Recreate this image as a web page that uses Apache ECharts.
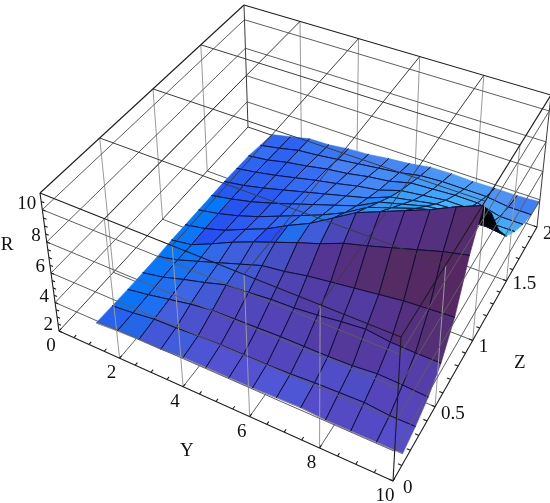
<!DOCTYPE html>
<html>
<head>
<meta charset="utf-8">
<style>html,body{margin:0;padding:0;background:#fff}#chart{width:550px;height:503px}</style>
<script src="https://cdn.jsdelivr.net/npm/echarts@6/dist/echarts.min.js"></script>
</head>
<body>
<div id="chart"></div>
<script>
// mesh positions
const yLevels = [0.9, 1.6, 2.3, 3, 3.7, 4.4, 5.1, 5.8, 6.5, 7.2, 7.9, 8.6, 9.3, 10];
const zLevels = [0.1, 0.246, 0.392, 0.538, 0.685, 0.831, 0.977, 1.123, 1.269, 1.415, 1.562, 1.708, 1.854, 2];

// R along each Z mesh line, one value per yLevels entry
const rZ0 = [2.55, 2.65, 2.7, 2.7, 2.8, 2.8, 2.8, 2.8, 2.85, 2.9, 2.8, 2.8, 2.8, 2.8];
const rZ1 = [2.5, 2.65, 2.85, 2.9, 3, 3.05, 3.05, 3.05, 3.1, 3.2, 3.25, 3.3, 3.15, 3.15];
const rZ2 = [2.45, 2.7, 3, 3.3, 3.5, 3.55, 3.6, 3.65, 3.65, 3.65, 3.7, 3.85, 3.8, 3.7];
const rZ3 = [2.45, 2.75, 3.2, 3.6, 4.05, 4.15, 4.3, 4.35, 4.5, 4.7, 4.85, 4.65, 4.6, 4.6];
const rZ4 = [2.45, 2.8, 3.3, 3.8, 4.3, 4.8, 5, 5.3, 5.5, 5.7, 5.9, 6.1, 6.2, 6.3];
const rZ5 = [2.5, 2.75, 3.4, 4.1, 4.7, 5.25, 5.8, 6.3, 6.9, 7.3, 7.75, 8.2, 8.65, 9];
const rZ6 = [2.5, 2.8, 3.25, 3.9, 4.5, 5.3, 6, 6.9, 7.8, 8.4, 9, 9.6, 10.3, 10.9];
const rZ7 = [2.5, 2.8, 3.2, 3.7, 4.3, 4.9, 5.5, 6.2, 7.1, 7.6, 8.1, 8.5, 8.7, 9.4];
const rZ8 = [2.5, 2.8, 3.15, 3.6, 4.1, 4.6, 5.1, 5.6, 6.4, 6.8, 7.2, 7.4, 7.2, 7.3];
const rZ9 = [2.5, 2.75, 3.1, 3.5, 3.9, 4.3, 4.7, 5.1, 5.7, 6, 6.3, 6.4, 6, 5.8];
const rZ10 = [2.45, 2.7, 3, 3.35, 3.7, 4, 4.35, 4.6, 5.1, 5.3, 5.5, 5.5, 5, 5];
const rZ11 = [2.4, 2.6, 2.95, 3.2, 3.5, 3.7, 4, 4.2, 4.6, 4.7, 4.8, 4.8, 4.4, 4.4];
const rZ12 = [2.2, 2.5, 2.85, 3, 3.2, 3.4, 3.6, 3.8, 4.1, 4.2, 4.2, 4.2, 4, 4];
const rZ13 = [2.05, 2.4, 2.75, 2.8, 3, 3.1, 3.3, 3.45, 3.7, 3.75, 3.7, 3.75, 3.75, 3.85];
const rRows = [rZ0, rZ1, rZ2, rZ3, rZ4, rZ5, rZ6, rZ7, rZ8, rZ9, rZ10, rZ11, rZ12, rZ13];

// axes
const yRange = [0, 10];
const zRange = [0, 2];
const rRange = [2, 11];
const yTicks = [0, 2, 4, 6, 8, 10];
const zTicks = [0, 0.5, 1, 1.5, 2];
const rTicks = [2, 4, 6, 8, 10];
const yMinor = [0.5, 1, 1.5, 2.5, 3, 3.5, 4.5, 5, 5.5, 6.5, 7, 7.5, 8.5, 9, 9.5];
const zMinor = [0.1, 0.2, 0.3, 0.4, 0.6, 0.7, 0.8, 0.9, 1.1, 1.2, 1.3, 1.4, 1.6, 1.7, 1.8, 1.9];
const rMinor = [2.5, 3, 3.5, 4.5, 5, 5.5, 6.5, 7, 7.5, 8.5, 9, 9.5, 10.5];

// view of the box: where its floor and lid corners land, [y0z0, y1z0, y1z1, y0z1]
const floorQuad = [[59, 331], [393, 481], [537, 227], [248, 127]];
const lidQuad = [[40, 193], [401, 337], [551, 95], [244, 5]];

function quadMap (q) {
  const [p0, p1, p2, p3] = q;
  const dx1 = p1[0] - p2[0], dx2 = p3[0] - p2[0], sx = p0[0] - p1[0] + p2[0] - p3[0];
  const dy1 = p1[1] - p2[1], dy2 = p3[1] - p2[1], sy = p0[1] - p1[1] + p2[1] - p3[1];
  const det = dx1 * dy2 - dx2 * dy1;
  const g = (sx * dy2 - dx2 * sy) / det;
  const h = (dx1 * sy - sx * dy1) / det;
  const a = p1[0] - p0[0] + g * p1[0], b = p3[0] - p0[0] + h * p3[0];
  const d = p1[1] - p0[1] + g * p1[1], e = p3[1] - p0[1] + h * p3[1];
  return function (u, v) {
    const w = 1 + g * u + h * v;
    return [(a * u + b * v + p0[0]) / w, (d * u + e * v + p0[1]) / w];
  };
}
const floorMap = quadMap(floorQuad);
const lidMap = quadMap(lidQuad);

function project (y, z, r) {
  const u = (y - yRange[0]) / (yRange[1] - yRange[0]);
  const v = (z - zRange[0]) / (zRange[1] - zRange[0]);
  const t = (r - rRange[0]) / (rRange[1] - rRange[0]);
  const k = t / (1 + 0.1 * (1 - t));
  const a = floorMap(u, v), b = lidMap(u, v);
  return [a[0] + (b[0] - a[0]) * k, a[1] + (b[1] - a[1]) * k];
}

function clamp (x, a, b) { return Math.max(a, Math.min(b, x)); }

// fill follows the slope of the cell, the way the plot's coloured lights do
function cellColor (gz, gy) {
  let r, g, b;
  if (gz >= 0) {
    const m = clamp(gy / 0.25, 0, 1) * (1 - clamp(gz / 1.2, 0, 1));
    const t = 1 - Math.exp(-gz);
    r = 35 + 50 * Math.min(1, gz * 4) - 30 * m;
    g = 95 - 60 * t + 25 * m;
    b = Math.max(100, 225 - 65 * gz + 25 * m);
  } else {
    const n = -gz;
    r = 35 + 45 * Math.min(1, n / 0.3) * (1 - clamp(gy, 0, 1)) - 30 * Math.max(0, n - 0.3);
    g = 95 + 105 * Math.pow(Math.min(n, 1.3), 0.7) - 50 * clamp(gy, 0, 1);
    b = 240 + 15 * Math.min(1, n);
  }
  return "rgb(" + Math.round(r) + "," + Math.round(g) + "," + Math.round(b) + ")";
}

// far cells first, so nearer ones paint over them
const cellData = [];
for (let i = 0; i < yLevels.length - 1; i++) {
  for (let j = zLevels.length - 2; j >= 0; j--) {
    cellData.push([i, j]);
  }
}

function renderCell (params, api) {
  const i = api.value(0), j = api.value(1);
  const at = (a, b) => api.coord(project(yLevels[a], zLevels[b], rRows[b][a]));
  const p00 = at(i, j), p10 = at(i + 1, j), p11 = at(i + 1, j + 1), p01 = at(i, j + 1);
  const area = (p10[0] - p00[0]) * (p11[1] - p00[1]) - (p10[1] - p00[1]) * (p11[0] - p00[0])
    + (p11[0] - p00[0]) * (p01[1] - p00[1]) - (p11[1] - p00[1]) * (p01[0] - p00[0]);
  const gz = (rRows[j + 1][i] - rRows[j][i] + rRows[j + 1][i + 1] - rRows[j][i + 1]) / 2;
  const gy = (rRows[j][i + 1] - rRows[j][i] + rRows[j + 1][i + 1] - rRows[j + 1][i]) / 2;
  const fill = area > 0 ? "#050308" : cellColor(gz, gy);
  const children = [{
    type: "polygon",
    shape: { points: [p00, p10, p11, p01] },
    style: { fill: fill, stroke: fill, lineWidth: 0.6 },
  }];
  const edge = (a, b, color) => children.push({
    type: "line",
    shape: { x1: a[0], y1: a[1], x2: b[0], y2: b[1] },
    style: { stroke: color || "#0c0f2e", lineWidth: 1 },
  });
  edge(p00, p10, j > 0 ? null : "#8f8f95");
  if (j + 2 < zLevels.length) edge(p01, p11);
  if (i > 0) edge(p00, p01);
  if (i + 2 < yLevels.length) edge(p10, p11);
  return { type: "group", children: children };
}

// grid lines are [y1, z1, r1, y2, z2, r2, strength]
const [y0, y1] = yRange, [z0, z1] = zRange, [r0, r1] = rRange;
const innerY = yTicks.slice(1, -1), innerZ = zTicks.slice(1, -1), innerR = rTicks.slice(1);

const backLines = [];
innerY.forEach((y) => {
  backLines.push([y, z0, r0, y, z1, r0, 1]);
  backLines.push([y, z1, r0, y, z1, r1, 0]);
});
innerZ.forEach((z) => {
  backLines.push([y0, z, r0, y1, z, r0, 1]);
  backLines.push([y0, z, r0, y0, z, r1, 0]);
});
innerR.forEach((r) => {
  backLines.push([y0, z1, r, y1, z1, r, 1]);
  backLines.push([y0, z0, r, y0, z1, r, 1]);
});
backLines.push([y0, z0, r0, y0, z1, r0, 2], [y0, z1, r0, y1, z1, r0, 2], [y0, z1, r0, y0, z1, r1, 2]);

const frontLines = [];
innerY.forEach((y) => {
  frontLines.push([y, z0, r1, y, z1, r1, 2]);
  frontLines.push([y, z0, r0, y, z0, r1, 0]);
});
innerZ.forEach((z) => {
  frontLines.push([y0, z, r1, y1, z, r1, 2]);
  frontLines.push([y1, z, r0, y1, z, r1, 0]);
});
innerR.forEach((r) => {
  frontLines.push([y0, z0, r, y1, z0, r, 1]);
  frontLines.push([y1, z0, r, y1, z1, r, 1]);
});
frontLines.push(
  [y0, z0, r0, y1, z0, r0, 3], [y1, z0, r0, y1, z1, r0, 3],
  [y0, z0, r0, y0, z0, r1, 3], [y1, z0, r0, y1, z0, r1, 3], [y1, z1, r0, y1, z1, r1, 2],
  [y0, z0, r1, y1, z0, r1, 3], [y1, z0, r1, y1, z1, r1, 3],
  [y1, z1, r1, y0, z1, r1, 3], [y0, z1, r1, y0, z0, r1, 3]
);

// tick marks sit on the three labelled edges
yTicks.concat(yMinor).forEach((y) => frontLines.push([y, z0, r0, y, 0.02, r0, 3]));
zTicks.concat(zMinor).forEach((z) => frontLines.push([y1, z, r0, 9.9, z, r0, 3]));
rTicks.concat(rMinor).forEach((r) => frontLines.push([y0, z0, r, 0.1, z0, r, 3]));

const lineStyles = [
  { stroke: "#9a9a9a", lineWidth: 1 },
  { stroke: "#5e5e5e", lineWidth: 1 },
  { stroke: "#3c3c3c", lineWidth: 1 },
  { stroke: "#1c1c1c", lineWidth: 1.1 },
];

function renderLine (params, api) {
  const a = api.coord(project(api.value(0), api.value(1), api.value(2)));
  const b = api.coord(project(api.value(3), api.value(4), api.value(5)));
  return {
    type: "line",
    shape: { x1: a[0], y1: a[1], x2: b[0], y2: b[1] },
    style: lineStyles[api.value(6)],
  };
}

// labels are [y, z, r, dx, dy, text, align]
const labelData = [];
yTicks.forEach((y) => labelData.push([y, z0, r0, -8, 15, String(y), "center"]));
zTicks.forEach((z) => labelData.push([y1, z, r0, z === 0 ? 10 : 6, z === 1.5 ? 3 : 7, String(z), "left"]));
rTicks.forEach((r) => labelData.push([y0, z0, r, -6, -6, String(r), "right"]));
labelData.push([y0, z0, r1, -33, 52, "R", "center"]);
labelData.push([5, z0, r0, -29, 50, "Y", "center"]);
labelData.push([y1, 1, r0, 47, 23, "Z", "center"]);

function renderLabel (params, api) {
  const item = labelData[params.dataIndex];
  const p = api.coord(project(item[0], item[1], item[2]));
  return {
    type: "text",
    style: {
      x: p[0] + item[3],
      y: p[1] + item[4],
      text: item[5],
      fill: "#111",
      align: item[6],
      verticalAlign: "middle",
      font: '19px "Liberation Serif"',
    },
  };
}

const myChart = echarts.init(document.getElementById("chart"));
myChart.setOption({
  animation: false,
  backgroundColor: "#fff",
  grid: { left: 0, top: 0, width: 550, height: 503 },
  xAxis: { type: "value", min: 0, max: 550, show: false },
  yAxis: { type: "value", min: 0, max: 503, inverse: true, show: false },
  tooltip: { show: false },
  series: [
    { type: "custom", z: 1, silent: true, clip: false, data: backLines, renderItem: renderLine, encode: { x: 0, y: 1 } },
    { type: "custom", z: 2, silent: true, clip: false, data: cellData, renderItem: renderCell, encode: { x: 0, y: 1 } },
    { type: "custom", z: 3, silent: true, clip: false, data: frontLines, renderItem: renderLine, encode: { x: 0, y: 1 } },
    { type: "custom", z: 4, silent: true, clip: false, data: labelData.map((d, n) => [n]), renderItem: renderLabel, encode: { x: 0 } },
  ],
});
</script>
</body>
</html>
